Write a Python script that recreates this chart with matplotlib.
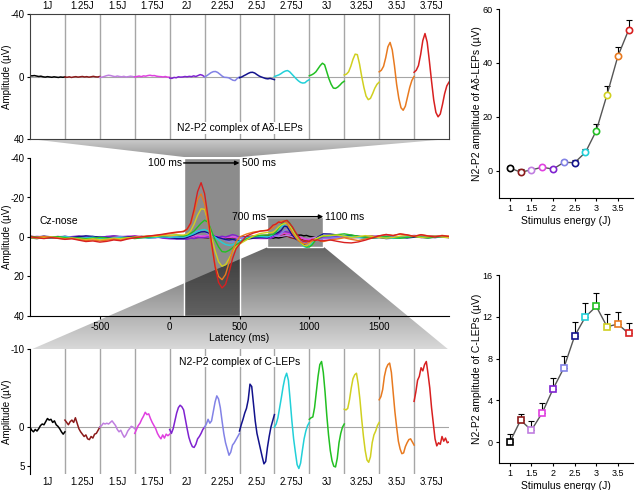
import numpy as np
import matplotlib.pyplot as plt
from matplotlib.patches import Polygon, Rectangle

plt.rcParams['font.family'] = ['Liberation Sans', 'DejaVu Sans']
plt.rcParams['font.size'] = 7
plt.rcParams['axes.unicode_minus'] = False

# energias del estimulo y colores de cada una
energias = ['1J', '1.25J', '1.5J', '1.75J', '2J', '2.25J', '2.5J', '2.75J', '3J', '3.25J', '3.5J', '3.75J']
energia_num = [1, 1.25, 1.5, 1.75, 2, 2.25, 2.5, 2.75, 3, 3.25, 3.5, 3.75]
colores = ['#000000', '#8b1a1a', '#c07ee0', '#e040e0', '#7f22d0', '#8282e6',
           '#12128c', '#22d0d8', '#22c022', '#d0d020', '#e87a20', '#d82020']

# amplitud N2-P2 (uV) y extremo superior de la barra de error
ad_amp = [1.1, -0.4, 0.4, 1.4, 0.7, 3.2, 3.1, 6.9, 14.9, 28.3, 42.5, 52.3]
ad_err_sup = [2.0, 0.6, 1.0, 2.0, 1.5, 4.2, 4.2, 8.1, 17.3, 31.6, 45.8, 56.0]
c_amp = [0.0, 2.1, 1.14, 2.8, 5.08, 7.1, 10.16, 12.0, 13.0, 11.05, 11.3, 10.4]
c_err_sup = [0.76, 2.7, 2.0, 3.7, 6.1, 8.2, 11.5, 13.3, 14.3, 12.3, 12.5, 11.4]

# ventana A-delta, 100 a 500 ms (uV)
ad_ventana = [
    [-0.5, -0.4, -0.6, -0.3, 0.0, -0.2, 0.2, 0.4, 0.1, 0.3, 0.5, 0.2, 0.4, 0.6, 0.3, 0.5, 0.3],
    [0.3, 0.5, 0.2, 0.6, 0.3, 0.1, 0.4, 0.2, 0.0, 0.3, 0.1, 0.4, 0.2, -0.1, 0.2, 0.3, 0.0],
    [0.6, 0.4, 0.0, -0.5, -0.8, -0.6, -0.2, 0.1, -0.3, 0.0, 0.2, -0.1, 0.3, 0.1, -0.2, 0.0, 0.3],
    [0.2, 0.0, -0.3, 0.1, -0.4, -0.2, -0.6, -0.8, -0.5, -0.6, -0.2, 0.0, 0.1, 0.3, 0.0, 0.4, 0.5],
    [1.0, 1.2, 0.6, 0.8, 0.2, 0.4, 0.3, 0.0, 0.2, -0.1, 0.1, -0.4, 0.0, -0.6, -1.2, -0.8, 0.2],
    [0.3, -0.5, -1.5, -2.5, -3.1, -3.2, -2.6, -1.5, -0.3, 0.5, 0.6, 0.8, 1.6, 2.4, 2.6, 1.2, 0.3],
    [0.8, 0.3, -0.5, -1.2, -2.0, -2.6, -2.7, -2.2, -1.2, -0.3, 0.3, 0.8, 1.3, 1.5, 1.2, 1.6, 2.0],
    [0.0, -0.5, -1.0, -1.8, -2.8, -3.5, -3.8, -3.0, -1.5, 0.0, 1.5, 2.8, 3.8, 4.2, 4.0, 2.8, 2.0],
    [-0.5, -1.0, -1.8, -3.0, -5.0, -7.0, -8.5, -7.5, -3.0, 1.5, 5.0, 7.4, 7.6, 6.8, 5.5, 4.0, 3.0],
    [-1.0, -1.5, -3.0, -6.5, -11.0, -14.3, -14.0, -8.0, 0.0, 7.0, 12.5, 14.8, 14.0, 11.0, 7.5, 5.0, 3.6],
    [-3.0, -4.0, -6.5, -12.0, -19.0, -21.8, -17.0, -7.0, 5.0, 14.0, 20.0, 21.6, 19.0, 13.0, 7.0, 2.5, 0.0],
    [-2.7, -4.0, -7.0, -14.0, -23.0, -27.5, -22.0, -10.0, 3.0, 15.0, 23.0, 25.8, 24.0, 18.0, 11.0, 6.0, 3.6],
]

# ventana C, 700 a 1100 ms (uV)
c_ventana = [
    [0.0, 0.4, 0.6, 0.3, 0.5, 0.2, -0.2, -0.4, -0.3, -0.7, -1.1, -0.9, -1.0, -0.6, -0.8, -0.3, -0.1, 0.2, 0.6, 0.9, 0.6],
    [-0.9, -0.6, -0.3, -0.7, -0.9, -0.6, -1.2, -0.5, 0.2, 0.6, 0.9, 1.2, 1.0, 1.5, 1.6, 1.2, 1.4, 0.9, 0.8, 0.4, 0.0],
    [0.0, -0.2, -0.5, -0.4, -0.5, -0.4, -0.6, -0.8, -0.5, -0.2, 0.3, 0.6, 0.4, 0.9, 1.3, 1.0, 0.5, 0.2, -0.1, 0.0, 0.2],
    [0.8, 0.3, -0.2, -0.5, -1.0, -1.4, -1.9, -1.6, -1.7, -1.1, -0.6, -0.2, 0.2, 0.8, 1.2, 1.5, 1.0, 1.4, 0.9, 1.1, 0.9],
    [0.3, 0.8, 0.2, -0.8, -1.8, -2.5, -2.8, -2.6, -2.2, -1.0, 0.2, 1.3, 2.0, 2.5, 2.6, 2.2, 1.5, 1.2, 0.8, 0.3, 0.0],
    [0.0, -0.4, -1.0, -0.5, -0.8, -2.0, -3.2, -4.0, -3.6, -2.5, -0.8, 0.8, 2.0, 2.8, 3.6, 3.2, 2.3, 2.0, 1.6, 1.2, 0.8],
    [0.5, -0.3, -1.0, -1.8, -2.4, -3.5, -5.5, -5.2, -3.0, -0.8, 0.8, 1.8, 2.8, 3.8, 4.7, 4.4, 2.6, 1.2, 0.0, -0.8, -1.6],
    [0.0, -0.4, -1.2, -2.5, -3.8, -5.2, -6.3, -6.9, -6.0, -3.5, -0.8, 1.5, 3.2, 4.8, 5.3, 4.6, 3.0, 1.5, 0.5, -0.2, -0.6],
    [-1.0, -1.2, -1.3, -2.5, -4.5, -6.5, -8.0, -8.4, -7.0, -4.5, -1.5, 1.0, 3.0, 4.3, 5.0, 5.1, 4.0, 2.0, 0.8, 0.0, -0.4],
    [-2.3, -2.2, -2.4, -3.5, -5.0, -6.2, -6.7, -6.9, -5.5, -3.5, -1.0, 1.2, 3.0, 4.2, 4.5, 3.8, 2.0, 1.0, 0.5, -0.2, -0.6],
    [-3.5, -3.9, -4.8, -6.5, -7.5, -8.0, -8.2, -7.0, -4.5, -2.0, 0.0, 1.8, 2.8, 3.4, 3.3, 2.5, 2.0, 1.6, 1.5, 1.9, 2.3],
    [-3.3, -4.5, -6.0, -6.5, -7.6, -7.2, -8.0, -8.4, -6.8, -5.0, -2.5, -0.5, 1.5, 2.4, 2.0, 2.2, 1.2, 1.8, 1.4, 2.0, 1.9],
]

# resto del trazo Cz-nose: -1000 a 50 ms, 550 a 650 ms y 1150 a 2000 ms (cada 50 ms)
pre_estimulo = [
    [0.5, 0.8, 0.3, 0.6, 0.2, -0.3, 0.1, 0.4, 0.0, -0.2, 0.3, 0.1, -0.4, -0.1, 0.2, 0.0, -0.3, 0.1, -0.2, 0.0, 0.3, 0.1],
    [-0.3, 0.2, 0.5, -0.1, 0.4, 0.6, 0.0, -0.3, 0.2, 0.5, 0.3, -0.2, 0.1, 0.4, -0.1, -0.4, 0.0, 0.3, -0.2, 0.1, 0.2, 0.3],
    [0.2, -0.4, 0.0, 0.3, -0.2, 0.1, 0.5, 0.2, -0.3, 0.0, 0.4, 0.6, 0.2, -0.2, -0.5, -0.1, 0.3, 0.0, -0.4, -0.2, 0.3, 0.6],
    [-0.5, 0.0, 0.4, 0.1, -0.3, 0.2, -0.1, 0.3, 0.6, 0.2, -0.2, 0.1, 0.5, 0.3, -0.3, -0.6, -0.2, 0.2, 0.4, -0.1, 0.0, 0.2],
    [0.4, 0.1, -0.3, 0.2, 0.6, 0.3, -0.2, -0.5, 0.0, 0.4, 0.2, -0.3, -0.6, -0.2, 0.3, 0.5, 0.1, -0.4, -0.1, 0.6, 0.9, 1.0],
    [-0.2, 0.3, 0.6, 0.2, -0.1, -0.4, 0.1, 0.5, 0.3, -0.2, 0.0, 0.4, 0.2, -0.3, 0.1, 0.6, 0.4, 0.0, -0.3, 0.2, 0.1, 0.3],
    [0.3, 0.0, -0.4, -0.1, 0.3, 0.5, 0.2, -0.2, -0.6, -0.3, 0.1, 0.3, 0.7, 0.4, 0.0, -0.3, 0.1, 0.4, 0.2, -0.2, 0.3, 0.8],
    [0.6, 0.2, 0.0, 0.5, 0.3, -0.2, 0.4, 0.8, 0.5, 0.1, 0.6, 0.9, 0.5, 0.2, 0.7, 0.4, 0.1, 0.5, 0.2, -0.1, 0.2, 0.0],
    [-0.4, 0.1, 0.5, 0.2, -0.2, 0.3, 0.7, 0.4, 0.9, 0.6, 0.2, 0.5, 1.0, 0.7, 0.3, 0.8, 0.4, 0.0, -0.3, -0.6, -0.8, -1.0],
    [0.2, 0.6, 0.3, -0.1, 0.4, 0.8, 0.5, 1.0, 1.3, 0.9, 1.4, 1.1, 0.6, 0.9, 0.4, 0.0, -0.2, -0.5, -0.3, -0.8, -0.6, -1.0],
    [0.5, 0.1, -0.3, 0.2, 0.6, 1.0, 0.7, 1.3, 1.8, 1.5, 2.0, 1.6, 1.1, 1.5, 0.8, 0.3, -0.1, -0.4, -0.8, -1.2, -1.6, -2.2],
    [-0.2, 0.4, 0.8, 0.3, 0.7, 1.2, 0.9, 1.6, 2.3, 2.0, 2.6, 2.2, 1.5, 1.9, 1.0, 0.4, -0.1, -0.5, -0.9, -1.4, -2.0, -2.5],
]
entre_ventanas = [
    [0.2, 0.0, -0.1], [-0.2, -0.5, -0.8], [0.4, 0.2, 0.1], [0.6, 0.7, 0.8],
    [0.1, 0.3, 0.3], [0.3, 0.0, -0.1], [1.2, 0.6, 0.3], [0.5, -0.3, -0.2],
    [1.0, -0.2, -0.8], [1.5, -0.5, -1.8], [-1.5, -2.5, -3.0], [-0.5, -2.0, -3.0],
]
post_ventana = [
    [0.3, 0.0, -0.4, -0.2, 0.1, 0.4, 0.2, -0.1, -0.3, 0.0, 0.3, 0.1, -0.2, 0.2, 0.4, 0.1, 0.0, 0.2],
    [0.0, -0.3, 0.1, 0.4, 0.2, -0.2, -0.5, -0.1, 0.3, 0.5, 0.2, -0.3, -0.1, 0.2, 0.0, -0.3, 0.1, 0.3],
    [0.5, 0.2, -0.2, 0.0, 0.4, 0.1, -0.3, -0.6, -0.2, 0.1, -0.2, -0.5, -0.1, 0.3, 0.0, -0.4, -0.2, 0.1],
    [0.8, 0.4, 0.0, -0.3, 0.1, 0.5, 0.2, -0.4, -0.7, -0.3, 0.0, -0.4, -0.8, -0.5, -0.2, -0.6, -0.3, 0.0],
    [0.0, -0.4, -0.8, -0.5, -0.1, 0.3, 0.0, -0.5, -0.2, 0.2, -0.1, -0.5, -0.2, 0.1, -0.3, -0.6, -0.2, 0.1],
    [0.6, 0.2, -0.3, -0.7, -0.4, 0.0, 0.3, -0.2, -0.6, -0.3, 0.1, -0.3, -0.7, -0.4, 0.0, -0.4, -0.1, 0.2],
    [-1.5, -1.0, -0.5, -0.9, -0.3, 0.2, 0.5, 0.3, 0.8, 0.6, 0.2, 0.5, 0.1, -0.3, 0.0, 0.3, -0.1, 0.2],
    [-0.5, -0.9, -0.6, -0.2, 0.2, 0.6, 0.4, 0.0, 0.3, 0.7, 0.4, -0.1, -0.4, 0.0, 0.3, 0.1, -0.2, 0.0],
    [-0.8, -1.2, -1.6, -1.0, -0.4, 0.0, 0.5, 0.2, -0.2, 0.3, 0.6, 0.2, -0.3, 0.1, 0.4, 0.0, -0.3, 0.1],
    [-0.8, -1.0, -0.4, 0.2, -0.2, -0.7, -0.3, 0.3, 0.6, 0.2, -0.4, -0.8, -0.3, 0.2, -0.1, -0.5, 0.0, 0.3],
    [1.5, 1.0, 0.4, 1.2, 1.8, 1.0, 0.3, -0.5, -1.2, -0.8, -1.5, -1.0, -0.4, -1.1, -0.6, -0.2, -0.8, -0.4],
    [1.5, 2.2, 2.8, 3.0, 2.5, 1.6, 0.5, -0.6, -1.3, -0.7, -1.6, -1.1, -0.3, -1.2, -0.5, 0.0, -0.7, -0.3],
]

GRIS = '#a6a6a6'
W, H = 640, 490


def caja(x0, y0, x1, y1):
    # posicion de un eje a partir de pixeles (origen arriba a la izquierda)
    return [x0 / W, 1 - y1 / H, (x1 - x0) / W, (y1 - y0) / H]


fig = plt.figure(figsize=(6.4, 4.9), dpi=100)

# fondo con los trapecios grises que unen los paneles
fondo = fig.add_axes([0, 0, 1, 1], zorder=-1)


def trapecio(esquinas, y0, y1, g0, g1):
    poly = Polygon(esquinas, closed=True, facecolor='none', edgecolor='none')
    fondo.add_patch(poly)
    grad = np.linspace(g0, g1, 100)[:, None]
    img = fondo.imshow(np.repeat(grad, 2, axis=1), cmap='gray', vmin=0, vmax=1,
                       extent=(30, 449, y1, y0), origin='upper', aspect='auto')
    img.set_clip_path(poly)


trapecio([(30, 139), (449, 139), (240, 157), (184, 157)], 139, 157, 0.8, 0.6)
trapecio([(268, 247), (324, 247), (449, 350), (30, 350)], 247, 350, 0.4, 0.85)
fondo.set_xlim(0, W)
fondo.set_ylim(H, 0)
fondo.axis('off')


def panel_ventanas(ax, datos, ylim, yticks):
    for i, seg in enumerate(datos):
        x = i + np.linspace(0, 1, len(seg))
        ax.plot(x, seg, color=colores[i], lw=1.1)
    for i in range(1, 12):
        ax.axvline(i, color=GRIS, lw=1, zorder=0)
    ax.axhline(0, color=GRIS, lw=0.8, zorder=0)
    ax.set_xlim(0, 12)
    ax.set_ylim(*ylim)
    ax.set_yticks(yticks)
    ax.set_xticks(np.arange(12) + 0.5)
    ax.set_xticklabels(energias)
    ax.tick_params(axis='x', length=0, pad=2)
    ax.tick_params(axis='y', direction='out', length=2.5, pad=1.5)
    ax.set_ylabel('Amplitude (\u00b5V)')
    ax.yaxis.set_label_coords(-0.043, 0.5)


# panel de arriba: A-delta
ax_t = fig.add_axes(caja(30, 14, 449, 139))
panel_ventanas(ax_t, ad_ventana, (40, -40), [-40, 0, 40])
ax_t.xaxis.tick_top()
ax_t.text(6, 33, 'N2-P2 complex of A\u03b4-LEPs', ha='center', va='center', fontsize=7.5,
          bbox=dict(facecolor='white', edgecolor='none', pad=0.5))
for s in ax_t.spines.values():
    s.set_color('#404040')
    s.set_linewidth(0.8)

# panel de abajo: C
ax_b = fig.add_axes(caja(30, 349, 449, 474))
panel_ventanas(ax_b, c_ventana, (6, -10), [-10, 0, 5])
ax_b.text(6, -8.4, 'N2-P2 complex of C-LEPs', ha='center', va='center', fontsize=7.5,
          bbox=dict(facecolor='white', edgecolor='none', pad=0.5))
for lado in ['top', 'right', 'bottom']:
    ax_b.spines[lado].set_visible(False)

# panel del medio: trazo completo
ax_m = fig.add_axes(caja(30, 158, 449, 316))
ax_m.patch.set_alpha(0)
ax_m.add_patch(Rectangle((100, -40), 400, 80, facecolor=(0, 0, 0, 0.45), edgecolor='white', lw=1))
ax_m.add_patch(Rectangle((700, -10), 400, 15, facecolor=(0, 0, 0, 0.45), edgecolor='white', lw=1))
for i in range(12):
    t = np.concatenate([np.linspace(-1000, 50, len(pre_estimulo[i])),
                        np.linspace(100, 500, len(ad_ventana[i])),
                        np.linspace(550, 650, len(entre_ventanas[i])),
                        np.linspace(700, 1100, len(c_ventana[i])),
                        np.linspace(1150, 2000, len(post_ventana[i]))])
    v = np.concatenate([pre_estimulo[i], ad_ventana[i], entre_ventanas[i], c_ventana[i], post_ventana[i]])
    ax_m.plot(t, v, color=colores[i], lw=1)
flecha = dict(arrowstyle='-|>', color='black', lw=1, mutation_scale=6, shrinkA=0, shrinkB=0)
ax_m.annotate('', xy=(500, -37.5), xytext=(100, -37.5), arrowprops=flecha)
ax_m.text(90, -37.5, '100 ms', ha='right', va='center', fontsize=7.5)
ax_m.text(515, -37.5, '500 ms', ha='left', va='center', fontsize=7.5)
ax_m.annotate('', xy=(1100, -10.3), xytext=(700, -10.3), arrowprops=flecha)
ax_m.text(690, -10.3, '700 ms', ha='right', va='center', fontsize=7.5)
ax_m.text(1115, -10.3, '1100 ms', ha='left', va='center', fontsize=7.5)
ax_m.text(-930, -8, 'Cz-nose', ha='left', va='center', fontsize=7.5)
ax_m.set_xlim(-1000, 2000)
ax_m.set_ylim(40, -40)
ax_m.set_xticks([-500, 0, 500, 1000, 1500])
ax_m.set_yticks([-40, -20, 0, 20, 40])
ax_m.tick_params(direction='out', length=2.5, pad=1.5)
ax_m.spines['top'].set_visible(False)
ax_m.spines['right'].set_visible(False)
ax_m.set_xlabel('Latency (ms)', fontsize=7.5, labelpad=1)
ax_m.set_ylabel('Amplitude (\u00b5V)')
ax_m.yaxis.set_label_coords(-0.043, 0.5)


# paneles de la derecha: amplitud vs energia
def panel_amplitud(ax, amp, err_sup, marcador, ylim, yticks, ylabel):
    err = np.array(err_sup) - np.array(amp)
    ax.errorbar(energia_num, amp, yerr=[np.zeros(len(amp)), err], fmt='none',
                ecolor='black', elinewidth=0.8, capsize=2, capthick=0.8, zorder=1)
    ax.plot(energia_num, amp, color='#555555', lw=1, zorder=2)
    for i in range(12):
        ax.plot(energia_num[i], amp[i], marker=marcador, ms=4.5, mfc='white',
                mec=colores[i], mew=1.2, zorder=3)
    ax.set_xlim(0.75, 3.85)
    ax.set_ylim(*ylim)
    ax.set_yticks(yticks)
    ax.set_xticks([1, 1.5, 2, 2.5, 3, 3.5])
    ax.set_xticklabels(['1', '1.5', '2', '2.5', '3', '3.5'])
    ax.tick_params(direction='out', length=2.5, pad=2, labelsize=6.5)
    ax.spines['top'].set_visible(False)
    ax.spines['right'].set_visible(False)
    ax.set_xlabel('Stimulus energy (J)', fontsize=7.5, labelpad=2)
    ax.set_ylabel(ylabel, fontsize=7.5)
    ax.yaxis.set_label_coords(-0.125, 0.5)


ax_r1 = fig.add_axes(caja(499, 9, 633, 198))
panel_amplitud(ax_r1, ad_amp, ad_err_sup, 'o', (-10, 60), [0, 20, 40, 60],
               'N2-P2 amplitude of A\u03b4-LEPs (\u00b5V)')
ax_r2 = fig.add_axes(caja(499, 275, 633, 463))
panel_amplitud(ax_r2, c_amp, c_err_sup, 's', (-2, 16), [0, 4, 8, 12, 16],
               'N2-P2 amplitude of C-LEPs (\u00b5V)')

fig.savefig('out.png', dpi=100)
